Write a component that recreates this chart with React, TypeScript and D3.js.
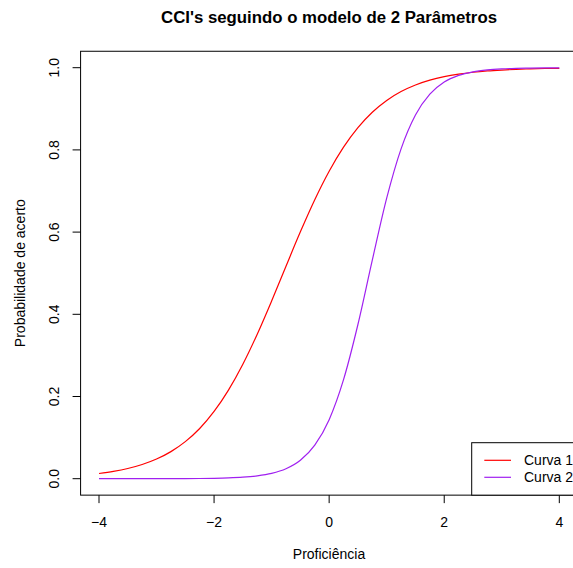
import React from "react";
import * as d3 from "d3";

const theta = [
  -4, -3.75, -3.5, -3.25, -3, -2.75, -2.5, -2.25, -2, -1.75, -1.5, -1.25, -1, -0.75, -0.5, -0.25,
  0, 0.25, 0.5, 0.75, 1, 1.25, 1.5, 1.75, 2, 2.25, 2.5, 2.75, 3, 3.25, 3.5, 3.75, 4,
];
const curva1 = [
  0.0127, 0.0178, 0.0248, 0.0345, 0.0478, 0.0659, 0.0902, 0.1222, 0.1636, 0.2155, 0.2785, 0.3516,
  0.4324, 0.517, 0.6006, 0.6787, 0.748, 0.8066, 0.8542, 0.8917, 0.9204, 0.942, 0.958, 0.9698,
  0.9783, 0.9844, 0.9889, 0.9921, 0.9943, 0.996, 0.9971, 0.998, 0.9985,
];
const curva2 = [
  0.0000062, 0.000012, 0.000022, 0.000042, 0.00008, 0.00015, 0.000286, 0.00054, 0.00102, 0.00193,
  0.00365, 0.00688, 0.0129, 0.0242, 0.0448, 0.0815, 0.1437, 0.241, 0.3752, 0.5318, 0.6825, 0.8026,
  0.885, 0.9357, 0.965, 0.9812, 0.99, 0.9947, 0.9972, 0.9985, 0.9992, 0.9996, 0.9998,
];
const xTicks = [-4, -2, 0, 2, 4];
const yTicks = [0, 0.2, 0.4, 0.6, 0.8, 1.0];
const seriesNames = ["Curva 1", "Curva 2"];
const seriesColors = ["#FF0000", "#A020F0"];

const W = 573;
const H = 568;
const FONT = "'Liberation Sans', Arial, Helvetica, sans-serif";

export default function App() {
  const x = d3.scaleLinear().domain([-4, 4]).range([99, 559.3]);
  const y = d3.scaleLinear().domain([0, 1]).range([478.7, 67.7]);
  const x0 = x(-4.32);
  const x1 = x(4.32);
  const y0 = y(-0.04);
  const y1 = y(1.04);

  const line = d3
    .line<number>()
    .x((_, i) => x(theta[i]))
    .y((d) => y(d))
    .curve(d3.curveMonotoneX);

  const series = [curva1, curva2];
  const fmt = (v: number) => (v < 0 ? "\u2212" + Math.abs(v) : String(v));

  return (
    <svg
      width={W}
      height={H}
      style={{ position: "absolute", left: 0, top: 0, background: "#fff" }}
      fontFamily={FONT}
    >
      <rect x={0} y={0} width={W} height={H} fill="#fff" />
      <text x={329} y={22.5} textAnchor="middle" fontWeight="bold" fontSize={16.8}>
        CCI's seguindo o modelo de 2 Parâmetros
      </text>

      {series.map((s, k) => (
        <path key={k} d={line(s) || ""} fill="none" stroke={seriesColors[k]} strokeWidth={1.2} />
      ))}

      <rect x={x0} y={y1} width={x1 - x0} height={y0 - y1} fill="none" stroke="#000" strokeWidth={1} />

      {xTicks.map((t) => (
        <g key={t}>
          <line x1={x(t)} x2={x(t)} y1={y0} y2={y0 + 8} stroke="#000" />
          <text x={x(t)} y={526.5} textAnchor="middle" fontSize={14}>
            {fmt(t)}
          </text>
        </g>
      ))}
      {yTicks.map((t) => (
        <g key={t}>
          <line x1={x0} x2={x0 - 8} y1={y(t)} y2={y(t)} stroke="#000" />
          <text
            transform={`translate(58.5,${y(t)}) rotate(-90)`}
            textAnchor="middle"
            fontSize={14}
          >
            {t.toFixed(1)}
          </text>
        </g>
      ))}

      <text x={329} y={559} textAnchor="middle" fontSize={14}>
        Proficiência
      </text>
      <text
        transform={`translate(25,${(y0 + y1) / 2}) rotate(-90)`}
        textAnchor="middle"
        fontSize={14}
      >
        Probabilidade de acerto
      </text>

      <g>
        <rect x={471.7} y={442.7} width={140} height={y0 - 442.7} fill="#fff" stroke="#000" />
        {seriesNames.map((n, i) => (
          <g key={n}>
            <line
              x1={484.3}
              x2={511}
              y1={460.3 + i * 17}
              y2={460.3 + i * 17}
              stroke={seriesColors[i]}
              strokeWidth={1.2}
            />
            <text x={524} y={460.3 + i * 17} dominantBaseline="central" fontSize={14}>
              {n}
            </text>
          </g>
        ))}
      </g>
    </svg>
  );
}
